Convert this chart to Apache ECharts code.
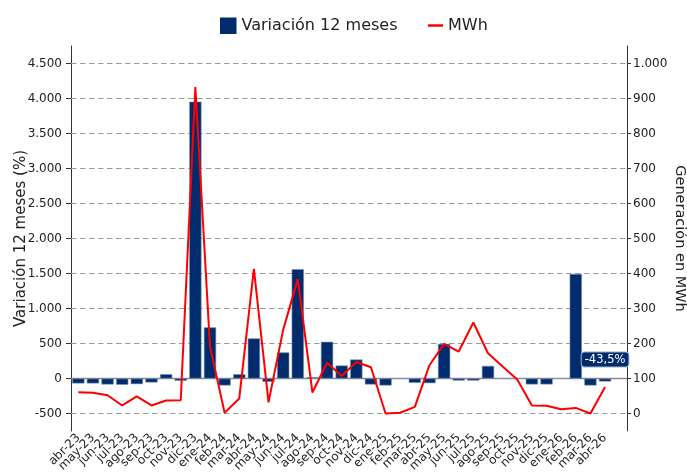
<!DOCTYPE html>
<html><head><meta charset="utf-8">
<script src="https://cdn.jsdelivr.net/npm/echarts@6/dist/echarts.min.js"></script>
<style>html,body{margin:0;padding:0;background:#fff}#c{width:687px;height:474px}</style>
</head><body><div id="c"></div>
<script>
const categories = ['abr-23','may-23','jun-23','jul-23','ago-23','sep-23','oct-23','nov-23','dic-23','ene-24','feb-24','mar-24','abr-24','may-24','jun-24','jul-24','ago-24','sep-24','oct-24','nov-24','dic-24','ene-25','feb-25','mar-25','abr-25','may-25','jun-25','jul-25','ago-25','sep-25','oct-25','nov-25','dic-25','ene-26','feb-26','mar-26','abr-26'];
const variacion = [-71,-71,-86,-90,-81,-57,62,-33,3955,731,-100,62,573,-48,373,1562,19,525,186,272,-86,-100,0,-62,-67,495,-30,-30,180,0,0,-85,-85,0,1495,-100,-43.5];
const mwh = [61,59,52,23,49,23,37,38,933,191,2,43,413,32,239,384,60,145,107,147,132,0,2,19,138,199,177,260,172,134,97,23,22,12,16,0,76];
const leftTicks = [-500,0,500,1000,1500,2000,2500,3000,3500,4000,4500];
const rightTicks = [0,100,200,300,400,500,600,700,800,900,1000];
const lastLabel = '-43,5%';

const FONT = '"DejaVu Sans"';
const fmt = v => Math.round(v).toString().replace(/\B(?=(\d{3})+(?!\d))/g, '.');
const axisCats = categories.concat(['']);

const chart = echarts.init(document.getElementById('c'), null, {renderer:'canvas'});
chart.setOption({
  animation: false,
  textStyle: {fontFamily: FONT},
  legend: [
    {data:[{name:'Variación 12 meses', icon:'rect'}], left:215, top:12.5, itemWidth:16.5, itemHeight:16.5,
     itemStyle:{borderWidth:0},
     textStyle:{fontFamily:FONT, fontSize:16, color:'#222'}},
    {data:[{name:'MWh', icon:'rect'}], left:423, top:12.5, itemWidth:15, itemHeight:2.5,
     itemStyle:{borderWidth:0},
     textStyle:{fontFamily:FONT, fontSize:16, color:'#222'}}
  ],
  grid: {left:71, right:60, top:46, bottom:43, containLabel:false, outerBoundsMode:'none'},
  xAxis: {
    type:'category', data: axisCats, boundaryGap:true,
    axisLine:{lineStyle:{color:'#333', width:1}},
    axisTick:{alignWithLabel:true, length:4, lineStyle:{color:'#333'}, interval:(i)=> i < categories.length},
    axisLabel:{rotate:45, interval:0, fontSize:12, color:'#222', margin:5, fontFamily:FONT}
  },
  yAxis: [
    {type:'value', min:-750, max:4750,
     name:'Variación 12 meses (%)', nameLocation:'middle', nameGap:42, nameMoveOverlap:false,
     nameTextStyle:{fontFamily:FONT, fontSize:15, color:'#222'},
     axisLine:{show:true, lineStyle:{color:'#333'}},
     axisTick:{show:true, length:5, lineStyle:{color:'#333'}, customValues:leftTicks},
     axisLabel:{formatter:fmt, fontSize:12, color:'#222', margin:9, fontFamily:FONT, customValues:leftTicks},
     splitLine:{show:false}},
    {type:'value', min:-50, max:1050,
     name:'Generación en MWh', nameLocation:'middle', nameGap:45, nameRotate:-90, nameMoveOverlap:false,
     nameTextStyle:{fontFamily:FONT, fontSize:14.5, color:'#222'},
     axisLine:{show:true, lineStyle:{color:'#333'}},
     axisTick:{show:true, length:4, lineStyle:{color:'#333'}, customValues:rightTicks},
     axisLabel:{formatter:fmt, fontSize:12, color:'#222', margin:6, fontFamily:FONT, customValues:rightTicks},
     splitLine:{show:false}}
  ],
  series: [
    {name:'Variación 12 meses', type:'bar', yAxisIndex:0, data:variacion, barWidth:'84%', z:3,
     itemStyle:{color:'#002c6e', borderColor:'#7f93bb', borderWidth:0.6},
     markLine:{silent:true, symbol:'none', label:{show:false}, z:1,
       lineStyle:{color:'#9a9a9a', type:[5.5,3.5], width:1},
       data: leftTicks.filter(v => v !== 0).map(v => ({yAxis:v}))},
     markPoint:{symbol:'circle', symbolSize:0,
       data:[{coord:[categories[categories.length-1], variacion[variacion.length-1]]}],
       label:{show:true, formatter:lastLabel, offset:[0,-22], color:'#fff', fontSize:11.5,
         fontFamily:FONT, backgroundColor:'#002c6e', borderColor:'#9fb0d0', borderWidth:1,
         borderRadius:3, padding:[1,3,1,3]}}
    },
    {name:'MWh', type:'line', yAxisIndex:1, data:mwh, symbol:'none', z:5,
     lineStyle:{color:'#ff0000', width:2}, itemStyle:{color:'#ff0000'},
     markLine:{silent:true, symbol:'none', label:{show:false}, z:1,
       lineStyle:{color:'#8a8a8a', type:'solid', width:1.3},
       data:[{yAxis:100}]}}
  ]
});
</script></body></html>
